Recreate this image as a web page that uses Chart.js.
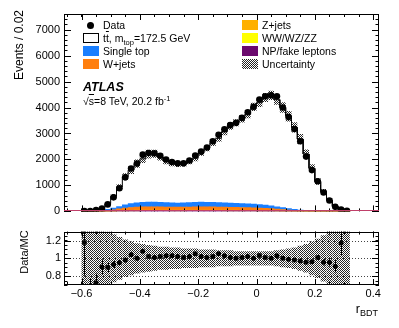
<!DOCTYPE html>
<html>
<head>
<meta charset="utf-8">
<script src="https://cdn.jsdelivr.net/npm/chart.js@4"></script>
<style>
  body { margin: 0; background: #fff; }
  #wrap { position: relative; width: 399px; height: 328px; overflow: hidden;
          font-family: "Liberation Sans", Arial, Helvetica, sans-serif; color: #000; }
  canvas { position: absolute; left: 0; }
  .t { position: absolute; white-space: nowrap; font-size: 10.5px; line-height: 13px; }
  .box { position: absolute; width: 16px; height: 10px; box-sizing: border-box; }
  .rot { position: absolute; white-space: nowrap; line-height: 13px; transform-origin: 0 0; transform: rotate(-90deg); }
  sub { font-size: 72%; vertical-align: -0.35em; line-height: 0; }
  sup { font-size: 72%; vertical-align: 0.5em; line-height: 0; }
  .ov { text-decoration: overline; }
</style>
</head>
<body>
<div id="wrap">
  <canvas id="mainChart" width="399" height="222" style="top:0"></canvas>
  <canvas id="ratioChart" width="399" height="106" style="top:222px"></canvas>

  <!-- legend, column 1 -->
  <div style="position:absolute;left:87px;top:21.5px;width:7px;height:7px;border-radius:50%;background:#000"></div>
  <div class="t" style="left:103px;top:18.5px">Data</div>
  <div class="box" style="left:83px;top:33px;border:1px solid #000;background:#fff"></div>
  <div class="t" style="left:103px;top:31.5px">t<span class="ov">t</span>, m<sub>top</sub>=172.5 GeV</div>
  <div class="box" style="left:83px;top:46px;background:#1a7fff"></div>
  <div class="t" style="left:103px;top:44.5px">Single top</div>
  <div class="box" style="left:83px;top:59px;background:#ff7f0e"></div>
  <div class="t" style="left:103px;top:57.5px">W+jets</div>

  <!-- legend, column 2 -->
  <div class="box" style="left:242px;top:20px;background:#ffb000"></div>
  <div class="t" style="left:262px;top:18.5px">Z+jets</div>
  <div class="box" style="left:242px;top:33px;background:#ffff00"></div>
  <div class="t" style="left:262px;top:31.5px">WW/WZ/ZZ</div>
  <div class="box" style="left:242px;top:46px;background:#6b0a6e"></div>
  <div class="t" style="left:262px;top:44.5px">NP/fake leptons</div>
  <div class="box" id="hatchBox" style="left:242px;top:59px"></div>
  <div class="t" style="left:262px;top:57.5px">Uncertainty</div>

  <div class="t" style="left:83px;top:81px;font-size:12.5px;font-weight:bold;font-style:italic">ATLAS</div>
  <div class="t" style="left:83px;top:94.5px">√<span class="ov">s</span>=8 TeV, 20.2 fb<sup>-1</sup></div>

  <div class="rot" style="left:13px;top:110px;width:100px;text-align:right;font-size:12px">Events / 0.02</div>
  <div class="rot" style="left:18px;top:281.5px;width:60px;text-align:center;font-size:11px">Data/MC</div>
  <div class="t" style="right:21px;top:302px;font-size:12.5px;line-height:14px">r<sub>BDT</sub></div>
</div>

<script>
// bin centres (bin width 0.02)
const binCenters = [-0.59, -0.57, -0.55, -0.53, -0.51, -0.49, -0.47, -0.45, -0.43, -0.41,
                    -0.39, -0.37, -0.35, -0.33, -0.31, -0.29, -0.27, -0.25, -0.23, -0.21,
                    -0.19, -0.17, -0.15, -0.13, -0.11, -0.09, -0.07, -0.05, -0.03, -0.01,
                    0.01, 0.03, 0.05, 0.07, 0.09, 0.11, 0.13, 0.15, 0.17, 0.19,
                    0.21, 0.23, 0.25, 0.27, 0.29, 0.31];
const binWidth = 0.02;

const dataCounts = [10, 10, 50, 110, 270, 540, 890, 1310, 1650, 1840,
                    2185, 2250, 2240, 2140, 2000, 1900, 1850, 1850, 1960, 2150,
                    2300, 2460, 2700, 2950, 3160, 3320, 3410, 3600, 3815, 4025,
                    4310, 4430, 4470, 4430, 4000, 3630, 3170, 2700, 2110, 1590,
                    1160, 730, 420, 175, 75, 25];

const ttbar = [8.5, 12, 54, 82, 220, 451, 747, 1087, 1287, 1510,
               1673, 1846, 1858, 1748, 1602, 1515, 1489, 1502, 1582, 1698,
               1895, 2086, 2302, 2470, 2738, 2967, 3100, 3264, 3450, 3745,
               3924, 4146, 4260, 4121, 3855, 3557, 3155, 2729, 2174, 1636,
               1137, 758, 437, 191, 64, 42];
const singleTop = [0, 2, 7, 20, 40, 65, 95, 125, 150, 165,
                   175, 180, 180, 175, 170, 165, 162, 165, 170, 175,
                   180, 175, 172, 170, 165, 160, 155, 150, 145, 140,
                   130, 120, 105, 90, 72, 55, 40, 28, 18, 10,
                   6, 3, 2, 1, 0, 0];
const wjets = [0, 2, 5, 14, 28, 45, 66, 88, 105, 115,
               122, 126, 126, 122, 119, 115, 114, 115, 119, 122,
               126, 122, 121, 119, 115, 112, 108, 105, 101, 98,
               91, 84, 73, 63, 51, 38, 28, 19, 12, 7,
               4, 2, 1, 0, 0, 0];
const zjets = [0, 0, 1, 2, 5, 8, 11, 15, 18, 20,
               21, 22, 22, 21, 20, 20, 20, 20, 20, 21,
               22, 21, 21, 20, 20, 19, 19, 18, 17, 17,
               16, 14, 13, 11, 9, 7, 5, 3, 2, 1,
               1, 0, 0, 0, 0, 0];
const diboson = [0, 0, 0, 1, 2, 3, 4, 5, 6, 7,
                 7, 7, 7, 7, 7, 7, 7, 7, 7, 7,
                 7, 7, 7, 7, 7, 6, 6, 6, 6, 6,
                 5, 5, 4, 4, 3, 2, 2, 1, 1, 0,
                 0, 0, 0, 0, 0, 0];
const fakes = [0, 1, 2, 3, 5, 9, 14, 17, 21, 23,
               25, 25, 25, 25, 24, 23, 22, 23, 24, 25,
               25, 25, 24, 24, 23, 23, 22, 21, 21, 18,
               18, 17, 15, 12, 10, 8, 5, 4, 2, 2,
               1, 1, 0, 0, 0, 0];

// relative uncertainty of the prediction (hatched band)
const mainUnc = [0.25, 0.25, 0.22, 0.18, 0.15, 0.13, 0.12, 0.1, 0.095, 0.085,
                 0.08, 0.075, 0.07, 0.065, 0.065, 0.06, 0.06, 0.055, 0.055, 0.055,
                 0.05, 0.05, 0.05, 0.045, 0.045, 0.045, 0.04, 0.04, 0.04, 0.04,
                 0.04, 0.04, 0.04, 0.045, 0.05, 0.055, 0.06, 0.07, 0.08, 0.095,
                 0.11, 0.13, 0.17, 0.2, 0.22, 0.25];
const ratioUnc = [0.5, 0.5, 0.45, 0.35, 0.3, 0.27, 0.24, 0.21, 0.19, 0.17,
                  0.16, 0.15, 0.14, 0.13, 0.13, 0.12, 0.12, 0.11, 0.11, 0.11,
                  0.1, 0.1, 0.1, 0.09, 0.09, 0.09, 0.08, 0.08, 0.08, 0.08,
                  0.08, 0.08, 0.08, 0.09, 0.1, 0.11, 0.12, 0.14, 0.16, 0.19,
                  0.22, 0.26, 0.35, 0.4, 0.45, 0.5];

const xTicks = [-0.6, -0.4, -0.2, 0, 0.2, 0.4];
const xTickLabels = ['\u22120.6', '\u22120.4', '\u22120.2', '0', '0.2', '0.4'];
const yTicks = [0, 1000, 2000, 3000, 4000, 5000, 6000, 7000];
const ratioTicks = [0.8, 1, 1.2];
const ratioTickLabels = ['0.8', '1', '1.2'];

const xMin = -0.66, xMax = 0.42;

Chart.defaults.font.family = '"Liberation Sans", Arial, Helvetica, sans-serif';
Chart.defaults.font.size = 11;
Chart.defaults.color = '#000';

// fine checkerboard, like the ROOT fill style
function makeHatch() {
    const c = document.createElement('canvas');
    c.width = 2; c.height = 2;
    const g = c.getContext('2d');
    g.fillStyle = '#262626';
    g.fillRect(0, 0, 1, 1);
    g.fillRect(1, 1, 1, 1);
    return c;
}
const hatchCanvas = makeHatch();
const hatch = document.createElement('canvas').getContext('2d').createPattern(hatchCanvas, 'repeat');
document.getElementById('hatchBox').style.background = 'url(' + hatchCanvas.toDataURL() + ')';

function stepsIn(min, max, step) {
    const out = [];
    for (let k = Math.ceil(min / step - 1e-9); k * step <= max + 1e-9; k++) out.push(k * step);
    return out;
}

// frame with inward ticks on all four sides, ROOT style
const frameTicks = {
    id: 'frameTicks',
    beforeDatasetsDraw(chart, args, o) {
        if (!o.dotted) return;
        const {ctx, chartArea: a, scales: {y}} = chart;
        ctx.save();
        ctx.strokeStyle = '#444';
        ctx.setLineDash([1, 2]);
        ctx.lineWidth = 1;
        o.dotted.forEach(v => {
            const py = Math.round(y.getPixelForValue(v)) + 0.5;
            ctx.beginPath(); ctx.moveTo(a.left, py); ctx.lineTo(a.right, py); ctx.stroke();
        });
        ctx.restore();
    },
    afterDatasetsDraw(chart, args, o) {
        const {ctx, chartArea: a, scales: {x, y}} = chart;
        ctx.save();
        ctx.strokeStyle = '#000';
        ctx.lineWidth = 1;
        ctx.beginPath();
        const xMarks = (vals, len) => vals.forEach(v => {
            const px = Math.round(x.getPixelForValue(v)) + 0.5;
            ctx.moveTo(px, a.bottom); ctx.lineTo(px, a.bottom - len);
            ctx.moveTo(px, a.top); ctx.lineTo(px, a.top + len);
        });
        const yMarks = (vals, len) => vals.forEach(v => {
            const py = Math.round(y.getPixelForValue(v)) + 0.5;
            ctx.moveTo(a.left, py); ctx.lineTo(a.left + len, py);
            ctx.moveTo(a.right, py); ctx.lineTo(a.right - len, py);
        });
        xMarks(stepsIn(x.min, x.max, o.xMinor), o.xLen / 2);
        xMarks(o.xMajor, o.xLen);
        yMarks(stepsIn(y.min, y.max, o.yMinor), o.yLen / 2);
        yMarks(o.yMajor, o.yLen);
        ctx.stroke();
        ctx.strokeRect(Math.round(a.left) + 0.5, Math.round(a.top) + 0.5,
                       Math.round(a.right - a.left) - 1, Math.round(a.bottom - a.top) - 1);
        if (o.zeroLine) {
            const py = Math.round(y.getPixelForValue(0)) - 0.5;
            ctx.strokeStyle = o.zeroLine;
            ctx.beginPath(); ctx.moveTo(a.left, py); ctx.lineTo(a.right, py); ctx.stroke();
        }
        ctx.restore();
    }
};

// stacked prediction as floating bars
const components = [
    {label: 'NP/fake leptons', values: fakes, color: '#6b0a6e'},
    {label: 'WW/WZ/ZZ', values: diboson, color: '#ffff00'},
    {label: 'Z+jets', values: zjets, color: '#ffb000'},
    {label: 'W+jets', values: wjets, color: '#ff7f0e'},
    {label: 'Single top', values: singleTop, color: '#1a7fff'},
    {label: 'ttbar', values: ttbar, color: '#ffffff'}
];
let base = binCenters.map(() => 0);
const stackSets = components.map(comp => {
    const pts = binCenters.map((x, i) => ({x, y: [base[i], base[i] + comp.values[i]]}));
    base = base.map((b, i) => b + comp.values[i]);
    return {
        type: 'bar', label: comp.label, data: pts, backgroundColor: comp.color,
        borderWidth: 0, grouped: false, barPercentage: 1, categoryPercentage: 1, order: 3, clip: 0
    };
});
const mcTotal = base;
const ratio = dataCounts.map((n, i) => n / mcTotal[i]);

// outline of the total prediction
const outline = [];
binCenters.forEach((c, i) => {
    outline.push({x: c - binWidth / 2, y: mcTotal[i]});
    outline.push({x: c + binWidth / 2, y: mcTotal[i]});
});

const barCommon = {grouped: false, barPercentage: 1, categoryPercentage: 1, borderWidth: 0, inflateAmount: 0, clip: 0};

new Chart(document.getElementById('mainChart'), {
    type: 'bar',
    data: {
        datasets: [
            {
                type: 'line', label: 'Data', order: 0, clip: 0, showLine: false,
                data: binCenters.map((x, i) => ({x, y: dataCounts[i]})),
                pointRadius: 3.3, pointBackgroundColor: '#000', pointBorderWidth: 0, borderColor: '#000'
            },
            Object.assign({
                label: 'Uncertainty', order: 1, backgroundColor: hatch,
                data: binCenters.map((x, i) => ({x, y: [mcTotal[i] * (1 - mainUnc[i]), mcTotal[i] * (1 + mainUnc[i])]}))
            }, barCommon),
            {
                type: 'line', label: 'outline', order: 2, data: outline,
                borderColor: '#000', borderWidth: 1, pointRadius: 0, tension: 0, fill: false
            },
            ...stackSets
        ]
    },
    options: {
        responsive: false,
        animation: false,
        events: [],
        layout: {padding: {top: 14, right: 20, bottom: 3, left: 0}},
        plugins: {
            legend: {display: false},
            tooltip: {enabled: false},
            frameTicks: {xMajor: xTicks, xMinor: 0.05, xLen: 6, yMajor: yTicks, yMinor: 200, yLen: 7, zeroLine: '#c0406a'}
        },
        scales: {
            x: {
                type: 'linear', min: xMin, max: xMax, offset: false,
                grid: {display: false, drawTicks: false, offset: false}, border: {display: false},
                ticks: {display: false},
                afterFit: s => { s.height = 0; }
            },
            y: {
                type: 'linear', min: 0, max: 7600,
                grid: {display: false, drawTicks: false}, border: {display: false},
                ticks: {padding: 4, callback: v => String(v)},
                afterBuildTicks: s => { s.ticks = yTicks.map(v => ({value: v})); },
                afterFit: s => { s.width = 64; }
            }
        }
    },
    plugins: [frameTicks]
});

// statistical error bars on the ratio points
const ratioErrors = {
    id: 'ratioErrors',
    afterDatasetsDraw(chart) {
        const {ctx, chartArea: a, scales: {x, y}} = chart;
        ctx.save();
        ctx.beginPath();
        ctx.rect(a.left, a.top, a.right - a.left, a.bottom - a.top);
        ctx.clip();
        ctx.strokeStyle = '#000';
        ctx.lineWidth = 1;
        ctx.beginPath();
        binCenters.forEach((c, i) => {
            const e = Math.sqrt(dataCounts[i]) / mcTotal[i];
            const px = Math.round(x.getPixelForValue(c)) + 0.5;
            ctx.moveTo(px, y.getPixelForValue(ratio[i] - e));
            ctx.lineTo(px, y.getPixelForValue(ratio[i] + e));
        });
        ctx.stroke();
        ctx.restore();
    }
};

new Chart(document.getElementById('ratioChart'), {
    type: 'bar',
    data: {
        datasets: [
            {
                type: 'line', label: 'Data/MC', order: 0, clip: 0, showLine: false,
                data: binCenters.map((x, i) => ({x, y: ratio[i]})),
                pointRadius: 2.5, pointBackgroundColor: '#000', pointBorderWidth: 0, borderColor: '#000'
            },
            Object.assign({
                label: 'Uncertainty', order: 1, backgroundColor: hatch,
                data: binCenters.map((x, i) => ({x, y: [1 - ratioUnc[i], 1 + ratioUnc[i]]}))
            }, barCommon)
        ]
    },
    options: {
        responsive: false,
        animation: false,
        events: [],
        layout: {padding: {top: 4, right: 20, bottom: 0, left: 0}},
        plugins: {
            legend: {display: false},
            tooltip: {enabled: false},
            frameTicks: {xMajor: xTicks, xMinor: 0.05, xLen: 6, yMajor: ratioTicks, yMinor: 0.05, yLen: 7, dotted: ratioTicks}
        },
        scales: {
            x: {
                type: 'linear', min: xMin, max: xMax, offset: false,
                grid: {display: false, drawTicks: false, offset: false}, border: {display: false},
                ticks: {padding: 2, maxRotation: 0, callback: (v, i) => xTickLabels[i]},
                afterBuildTicks: s => { s.ticks = xTicks.map(v => ({value: v})); },
                afterFit: s => { s.height = 43; }
            },
            y: {
                type: 'linear', min: 0.7, max: 1.3,
                grid: {display: false, drawTicks: false}, border: {display: false},
                ticks: {padding: 3, callback: (v, i) => ratioTickLabels[i]},
                afterBuildTicks: s => { s.ticks = ratioTicks.map(v => ({value: v})); },
                afterFit: s => { s.width = 64; }
            }
        }
    },
    plugins: [frameTicks, ratioErrors]
});
</script>
</body>
</html>
